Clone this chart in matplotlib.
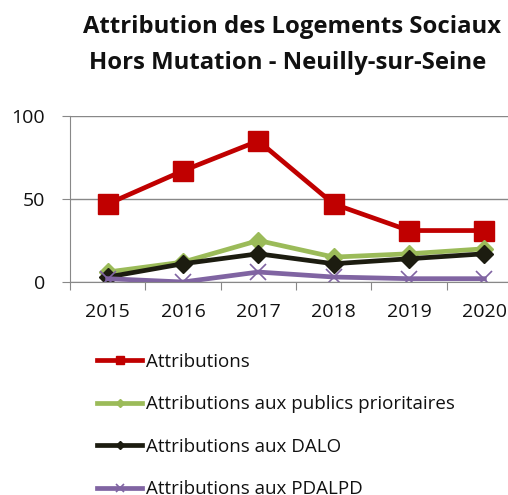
import matplotlib
matplotlib.use('Agg')
import matplotlib.pyplot as plt

'''
    Données lues sur le graphique
'''
annees = ['2015', '2016', '2017', '2018', '2019', '2020']
attributions = [47, 67, 85, 47, 31, 31]
publics_prioritaires = [6, 12, 25, 15, 17, 20]
dalo = [3, 11, 17, 11, 14, 17]
pdalpd = [2, 0, 6, 3, 2, 2]

labels = ['Attributions', 'Attributions aux publics prioritaires',
          'Attributions aux DALO', 'Attributions aux PDALPD']

plt.rcParams['font.family'] = ['Open Sans', 'DejaVu Sans']

fig = plt.figure(figsize=(5.08, 4.95), dpi=100)
ax = fig.add_axes([70 / 508, 1 - 282 / 495, 452 / 508, 166 / 495])

x = range(len(annees))
ax.plot(x, attributions, color='#C00000', lw=3.4, marker='s', ms=14, label=labels[0])
ax.plot(x, publics_prioritaires, color='#9BBB59', lw=3.4, marker='D', ms=9, label=labels[1])
ax.plot(x, dalo, color='#1C1C10', lw=3.4, marker='D', ms=9, label=labels[2])
ax.plot(x, pdalpd, color='#8064A2', lw=3.4, marker='x', ms=12, mew=1.2, label=labels[3])

ax.set_xlim(-0.5, len(annees) - 0.5)
ax.set_ylim(0, 100)
ax.set_yticks([0, 50, 100])
ax.set_xticks([i - 0.5 for i in range(len(annees))], minor=False)
ax.set_xticklabels([])
ax.set_xticks(list(x), minor=True)
ax.set_xticklabels(annees, minor=True)
ax.tick_params(axis='x', which='minor', length=0, pad=15, labelsize=14, labelcolor='#111111')
ax.tick_params(axis='x', which='major', length=6, color='#888888')
ax.tick_params(axis='y', length=6, color='#888888', labelsize=14, pad=12, labelcolor='#111111')
ax.grid(axis='y', color='#888888', lw=1)
ax.set_axisbelow(True)
for s in ['top', 'right']:
    ax.spines[s].set_visible(False)
ax.spines['left'].set_color('#888888')
ax.spines['bottom'].set_color('#888888')

fig.text(292 / 508, 1 - 27 / 495, 'Attribution des Logements Sociaux', ha='center', va='center',
         fontsize=17.2, fontweight='bold', color='#111111')
fig.text(288 / 508, 1 - 63 / 495, 'Hors Mutation - Neuilly-sur-Seine', ha='center', va='center',
         fontsize=17.2, fontweight='bold', color='#111111')

leg = fig.legend(loc='upper left', bbox_to_anchor=(97 / 508, 1 - 353 / 495), frameon=False,
                 borderpad=0, borderaxespad=0,
                 handlelength=2.4, handletextpad=0.2, labelspacing=1.3, fontsize=13.5,
                 markerscale=0.45)
for t in leg.get_texts():
    t.set_color('#111111')

fig.savefig('out.png', dpi=100)
